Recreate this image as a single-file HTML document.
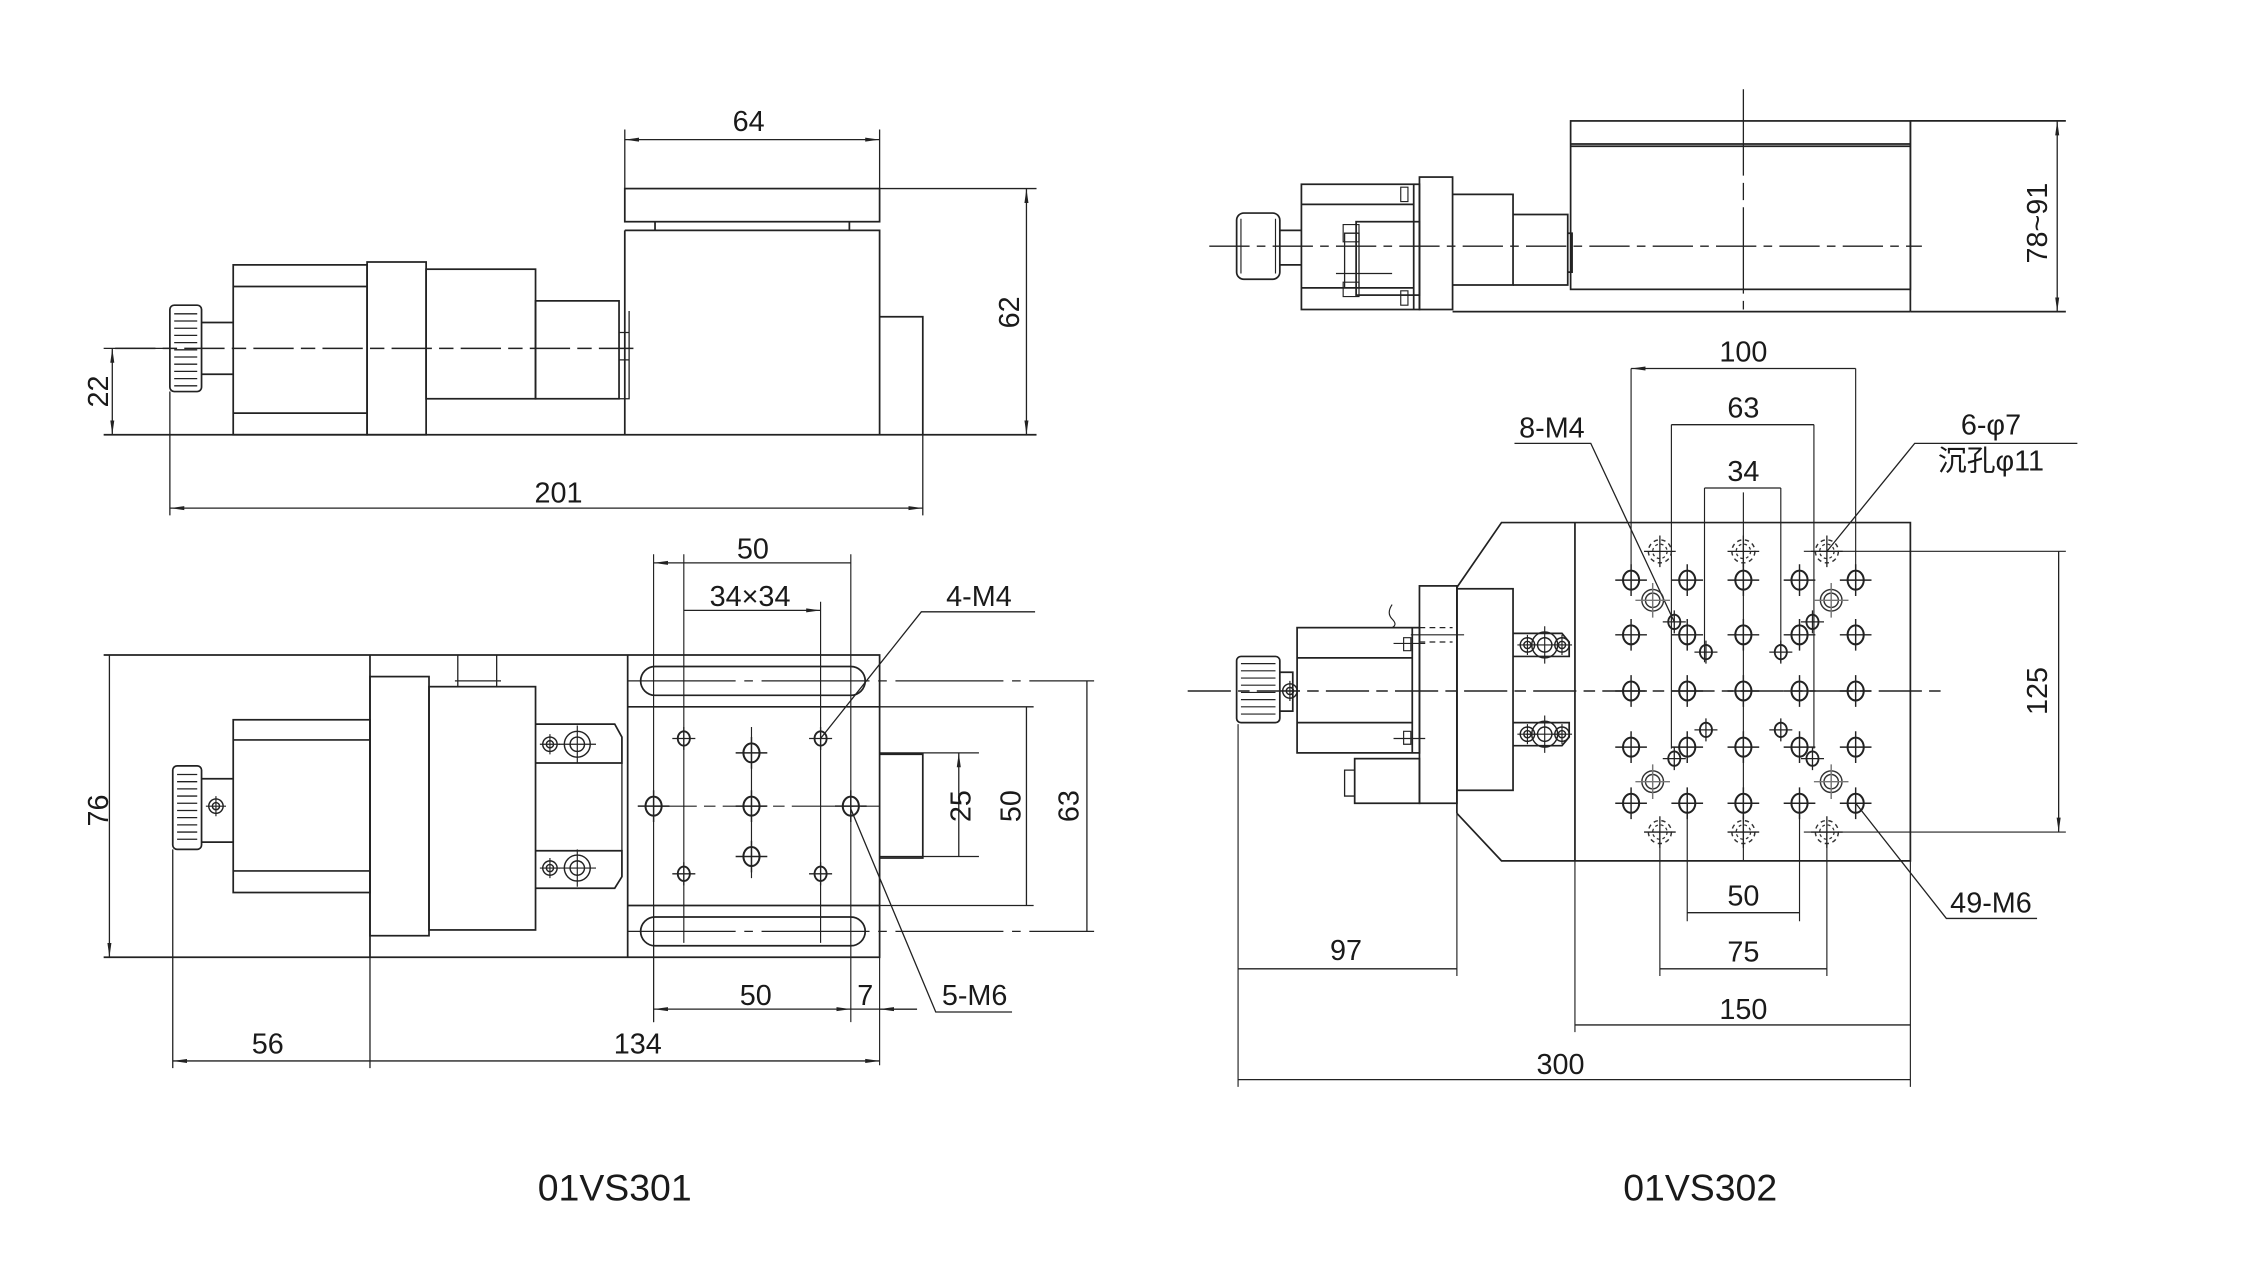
<!DOCTYPE html>
<html><head><meta charset="utf-8"><style>
html,body{margin:0;padding:0;background:#fff;}
svg{display:block;}
text{font-family:"Liberation Sans","Noto Sans CJK SC",sans-serif;fill:#1a1a1a;}
</style></head><body>
<svg width="2253" height="1274" viewBox="0 0 1565 885" preserveAspectRatio="none" xmlns="http://www.w3.org/2000/svg">
<defs>
<marker id="a" viewBox="0 0 10 4" refX="10" refY="2" markerWidth="10" markerHeight="4" markerUnits="userSpaceOnUse" orient="auto-start-reverse"><path d="M0,0.6 L10,2 L0,3.4z" fill="#222"/></marker>
<g id="h6"><ellipse rx="5.6" ry="6.6" fill="none" stroke="#222" stroke-width="1.4"/><path d="M-11,0H11M0,-11V11" stroke="#222" stroke-width="1"/></g>
<g id="h4"><ellipse rx="4.2" ry="5" fill="none" stroke="#222" stroke-width="1.3"/><path d="M-8,0H8M0,-8V8" stroke="#222" stroke-width="0.9"/></g>
<g id="hb"><circle r="7.5" fill="none" stroke="#333" stroke-width="1"/><circle r="5" fill="none" stroke="#333" stroke-width="1"/><path d="M-12,0H12M0,-12V12" stroke="#777" stroke-width="1"/></g>
<g id="hd"><circle r="8" fill="none" stroke="#333" stroke-width="1" stroke-dasharray="3,2.5"/><circle r="5" fill="none" stroke="#333" stroke-width="0.9" stroke-dasharray="2,2"/><path d="M-11,0H11M0,-11V11" stroke="#222" stroke-width="0.9"/></g>
<g id="sc"><circle r="5" fill="none" stroke="#222" stroke-width="1"/><circle r="2.5" fill="none" stroke="#222" stroke-width="1"/><path d="M-7,0H7M0,-7V7" stroke="#222" stroke-width="0.8"/></g>
<g id="big"><circle r="9" fill="none" stroke="#222" stroke-width="1"/><circle r="5" fill="none" stroke="#222" stroke-width="1"/><path d="M-13,0H13M0,-13V13" stroke="#222" stroke-width="0.8"/></g>
</defs>

<g fill="none" stroke="#222" stroke-width="1.2">
<rect x="118" y="212" width="22" height="60" rx="3"/>
<path d="M121,218H137M121,223H137M121,228H137M121,233H137M121,238H137M121,243H137M121,248H137M121,253H137M121,258H137M121,263H137M121,268H137" stroke-width="0.9"/>
<path d="M140,224H162M140,260H162"/>
<rect x="162" y="184" width="93" height="118"/>
<path d="M162,199H255M162,287H255"/>
<rect x="255" y="182" width="41" height="120"/>
<rect x="296" y="187" width="76" height="90"/>
<rect x="372" y="209" width="58" height="68"/>
<path d="M430,231H437V250H430M430,277H437V216" stroke-width="0.9"/>
<rect x="434" y="131" width="177" height="23"/>
<path d="M434,160H611V302M434,160V302"/>
<path d="M455,154V160M590,154V160"/>
<path d="M611,220H641V302"/>
<path d="M72,302H720" stroke-width="1.2"/>
<path d="M80,242H440" stroke-dasharray="28,5,10,5" stroke-width="1"/>
<path d="M434,90V131M611,90V131" stroke-width="0.9"/>
<path d="M434,97H611" stroke-width="0.9" marker-start="url(#a)" marker-end="url(#a)"/>
<path d="M611,131H720" stroke-width="0.9"/>
<path d="M713,131V302" stroke-width="0.9" marker-start="url(#a)" marker-end="url(#a)"/>
<path d="M72,242H118" stroke-width="0.9"/>
<path d="M78,242V302" stroke-width="0.9" marker-start="url(#a)" marker-end="url(#a)"/>
<path d="M118,272V358M641,302V358" stroke-width="0.9"/>
<path d="M118,353H641" stroke-width="0.9" marker-start="url(#a)" marker-end="url(#a)"/>

<path d="M72,455H611V665H72"/>
<path d="M257,455V665M436,455V665"/>
<rect x="120" y="532" width="20" height="58" rx="3"/>
<path d="M123,538H137M123,543H137M123,548H137M123,553H137M123,558H137M123,563H137M123,568H137M123,573H137M123,578H137M123,583H137" stroke-width="0.9"/>
<path d="M140,541H162M140,585H162"/>
<rect x="162" y="500" width="95" height="120"/>
<path d="M162,514H257M162,605H257"/>
<rect x="257" y="470" width="41" height="180"/>
<rect x="298" y="477" width="74" height="169"/>
<path d="M318,477V455M345,477V455M316,473H348" stroke-width="0.9"/>
<path d="M372,503H427L432,512V530H372M372,591H432V609L427,617H372" />
<path d="M432,530V591" stroke-width="0.9"/>
<path d="M436,491H611M436,629H611"/>
<rect x="445" y="463" width="156" height="20" rx="10"/>
<rect x="445" y="637" width="156" height="20" rx="10"/>
<path d="M436,473H760M436,647H760" stroke-width="0.9" stroke-dasharray="75,6,6,6"/>
<path d="M611,524H641V596H611"/>
<path d="M611,523H680M611,595H680M611,491H718M611,629H718" stroke-width="0.9"/>
<path d="M454,560H611" stroke-width="0.8" stroke-dasharray="30,5,8,5"/>
<path d="M522,505V610" stroke-width="0.8"/>
<path d="M475,385V655M570,418V655M454,385V710M591,385V710" stroke-width="0.8"/>
<path d="M611,640V740M454,629V710" stroke-width="0.8"/>
<path d="M454,391H591M475,424H570" stroke-width="0.9" marker-start="url(#a)" marker-end="url(#a)"/>
<path d="M666,523V595M713,491V629M755,473V647M76,455V665" stroke-width="0.9" marker-start="url(#a)" marker-end="url(#a)"/>
<path d="M454,701H591" stroke-width="0.9" marker-start="url(#a)" marker-end="url(#a)"/>
<path d="M591,701H611M637,701H611" stroke-width="0.9"/>
<path d="M637,701L611,701" marker-end="url(#a)" stroke-width="0.9"/>
<path d="M120,590V742M257,665V742" stroke-width="0.9"/>
<path d="M120,737H257M257,737H611" stroke-width="0.9" marker-start="url(#a)" marker-end="url(#a)"/>
<path d="M570,513L640,425H719M591,562L650,703H703" stroke-width="0.9"/>
</g>
<use href="#sc" x="150" y="560"/>
<use href="#sc" x="382" y="517"/><use href="#big" x="401" y="517"/>
<use href="#sc" x="382" y="603"/><use href="#big" x="401" y="603"/>
<use href="#h4" x="475" y="513"/><use href="#h4" x="570" y="513"/><use href="#h4" x="475" y="607"/><use href="#h4" x="570" y="607"/>
<use href="#h6" x="522" y="523"/><use href="#h6" x="522" y="560"/><use href="#h6" x="522" y="595"/><use href="#h6" x="454" y="560"/><use href="#h6" x="591" y="560"/>

<g font-size="20" text-anchor="middle">
<text x="520" y="91">64</text>
<text transform="translate(708,217) rotate(-90)">62</text>
<text transform="translate(75,272) rotate(-90)">22</text>
<text x="388" y="349">201</text>
<text x="523" y="388">50</text>
<text x="521" y="421">34×34</text>
<text x="680" y="421">4-M4</text>
<text transform="translate(674,560) rotate(-90)">25</text>
<text transform="translate(709,560) rotate(-90)">50</text>
<text transform="translate(749,560) rotate(-90)">63</text>
<text transform="translate(75,563) rotate(-90)">76</text>
<text x="525" y="698">50</text>
<text x="601" y="698">7</text>
<text x="677" y="698">5-M6</text>
<text x="186" y="732">56</text>
<text x="443" y="732">134</text>
<text x="1211" y="251">100</text>
<text x="1211" y="290">63</text>
<text x="1211" y="334">34</text>
<text x="1078" y="304">8-M4</text>
<text x="1383" y="302">6-φ7</text>
<text x="1383" y="327">沉孔φ11</text>
<text transform="translate(1422,155) rotate(-90)">78~91</text>
<text transform="translate(1422,480) rotate(-90)">125</text>
<text x="1383" y="634">49-M6</text>
<text x="1211" y="629">50</text>
<text x="1211" y="668">75</text>
<text x="1211" y="708">150</text>
<text x="935" y="667">97</text>
<text x="1084" y="746">300</text>
</g>
<g font-size="26" text-anchor="middle">
<text x="427" y="834">01VS301</text>
<text x="1181" y="834">01VS302</text>
</g>

<g fill="none" stroke="#222" stroke-width="1.2">
<path d="M840,171H1335" stroke-width="1" stroke-dasharray="28,5,6,5"/>
<path d="M1211,62V215" stroke-width="0.9" stroke-dasharray="60,5,12,5"/>
<rect x="859" y="148" width="30" height="46" rx="5"/>
<path d="M862,152V190M886,152V190" stroke-width="0.8"/>
<path d="M889,160H904M889,184H904"/>
<rect x="904" y="128" width="82" height="87"/>
<path d="M904,142H982M904,200H982M982,128V215"/>
<rect x="942" y="154" width="44" height="51"/>
<path d="M934,162H944V200H934Z M928,190H967" stroke-width="0.9"/>
<path d="M933,156H944V168H933ZM933,196H944V206H933Z" stroke-width="0.8"/>
<path d="M973,130h5v10h-5zM973,202h5v10h-5z" stroke-width="0.8"/>
<rect x="986" y="123" width="23" height="92"/>
<path d="M1009,135H1051V198H1009"/>
<path d="M1051,149H1089V198H1051"/>
<path d="M1089,162H1092V189H1089"/>
<path d="M1009,216.5H1327" />
<rect x="1091" y="84" width="236" height="117"/>
<path d="M1091,100H1327M1091,101.6H1327"/>
<path d="M1327,84V216.5M1327,84H1435M1327,216.5H1435" />
<path d="M1429,84V216.5" stroke-width="0.9" marker-start="url(#a)" marker-end="url(#a)"/>

<path d="M1012,408L1043,363H1327V598H1043L1012,565"/>
<path d="M1094,363V598M1012,408V565"/>
<rect x="986" y="407" width="26" height="151"/>
<rect x="1012" y="409" width="39" height="140"/>
<path d="M986,436H1009M986,446H1009" stroke-dasharray="4,3" stroke-width="0.9"/>
<path d="M980,441H1017" stroke-width="0.8"/>
<path d="M967,420q-4,6 0,10t0,6" stroke-width="0.8"/>
<rect x="901" y="436" width="85" height="87"/>
<path d="M901,457H981M901,502H981M981,436V523"/>
<path d="M975,443h5v9h-5zM975,508h5v9h-5zM968,447H990M968,513H990" stroke-width="0.8"/>
<rect x="859" y="456" width="30" height="46" rx="3"/>
<path d="M862,461H886M862,466H886M862,471H886M862,476H886M862,481H886M862,486H886M862,491H886M862,496H886" stroke-width="0.8"/>
<path d="M889,467H898V494H889"/>
<rect x="941" y="527" width="45" height="31"/>
<path d="M934,535H941V553H934ZM941,533V555" stroke-width="0.9"/>
<path d="M1051,440H1085L1090,446V456H1051M1051,502H1090V512L1085,518H1051"/>
<path d="M825,480H1350" stroke-width="1" stroke-dasharray="30,5,8,5"/>
<path d="M1211,342V598" stroke-width="0.8"/>
<path d="M1133,256V410M1289,256V410M1161,295V520M1260,295V520M1184,339V460M1237,339V460" stroke-width="0.8"/>
<path d="M1172,558V640M1250,558V640M1153,578V678M1269,578V678M1094,598V717M1327,598V755M860,503V755M1012,565V678" stroke-width="0.8"/>
<path d="M1253,383H1435M1253,578H1435" stroke-width="0.8"/>
<path d="M1133,256H1289M1161,295H1260M1184,339H1237M1172,634H1250M1153,673H1269M1094,712H1327M860,750H1327M860,673H1012M1430,383V578" stroke-width="0.9" marker-start="url(#a)" marker-end="url(#a)"/>
<path d="M1052,308H1105L1163,432M1443,308H1330L1269,383M1415,638H1352L1289,558" stroke-width="0.9"/>
</g>
<g>
<use href="#h6" x="1133" y="403"/><use href="#h6" x="1172" y="403"/><use href="#h6" x="1211" y="403"/><use href="#h6" x="1250" y="403"/><use href="#h6" x="1289" y="403"/>
<use href="#h6" x="1133" y="441"/><use href="#h6" x="1172" y="441"/><use href="#h6" x="1211" y="441"/><use href="#h6" x="1250" y="441"/><use href="#h6" x="1289" y="441"/>
<use href="#h6" x="1133" y="480"/><use href="#h6" x="1172" y="480"/><use href="#h6" x="1211" y="480"/><use href="#h6" x="1250" y="480"/><use href="#h6" x="1289" y="480"/>
<use href="#h6" x="1133" y="519"/><use href="#h6" x="1172" y="519"/><use href="#h6" x="1211" y="519"/><use href="#h6" x="1250" y="519"/><use href="#h6" x="1289" y="519"/>
<use href="#h6" x="1133" y="558"/><use href="#h6" x="1172" y="558"/><use href="#h6" x="1211" y="558"/><use href="#h6" x="1250" y="558"/><use href="#h6" x="1289" y="558"/>
<use href="#hb" x="1148" y="417"/><use href="#hb" x="1272" y="417"/><use href="#hb" x="1148" y="543"/><use href="#hb" x="1272" y="543"/>
<use href="#hd" x="1153" y="383"/><use href="#hd" x="1211" y="383"/><use href="#hd" x="1269" y="383"/>
<use href="#hd" x="1153" y="578"/><use href="#hd" x="1211" y="578"/><use href="#hd" x="1269" y="578"/>
<use href="#h4" x="1163" y="432"/><use href="#h4" x="1259" y="432"/><use href="#h4" x="1185" y="453"/><use href="#h4" x="1237" y="453"/>
<use href="#h4" x="1185" y="507"/><use href="#h4" x="1237" y="507"/><use href="#h4" x="1163" y="527"/><use href="#h4" x="1259" y="527"/>
<use href="#sc" x="1061" y="448"/><use href="#big" x="1073" y="448"/><use href="#sc" x="1085" y="448"/>
<use href="#sc" x="1061" y="510"/><use href="#big" x="1073" y="510"/><use href="#sc" x="1085" y="510"/>
<use href="#sc" x="896" y="480"/>
</g>
</svg>
</body></html>
